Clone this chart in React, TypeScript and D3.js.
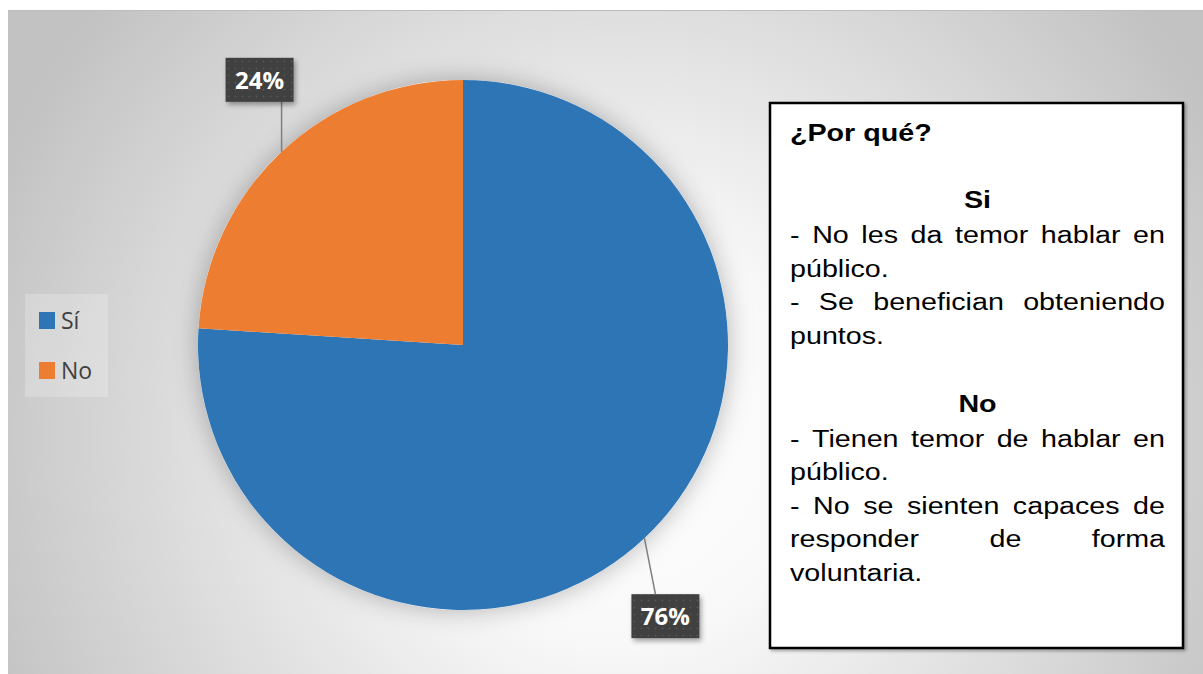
import React, { useEffect, useRef } from "react";
import * as d3 from "d3";

const categories = ["Sí", "No"];
const values = [76, 24];
const labels = ["76%", "24%"];
const colors = ["#2e75b6", "#ed7d31"];

const titleText = "¿Por qué?";
const siHeading = "Si";
const siLines = [
  { t: "- No les da temor hablar en", j: true },
  { t: "público.", j: false },
  { t: "- Se benefician obteniendo", j: true },
  { t: "puntos.", j: false },
];
const noHeading = "No";
const noLines = [
  { t: "- Tienen temor de hablar en", j: true },
  { t: "público.", j: false },
  { t: "- No se sienten capaces de", j: true },
  { t: "responder de forma", j: true },
  { t: "voluntaria.", j: false },
];

const W = 1203;
const H = 674;
const cx = 463;
const cy = 345;
const R = 265;
// label box offsets relative to the arc point at the slice's mid angle
const labelLayout = [
  { dx: 21, dy: 78, lx: 11, ly: 56 },
  { dx: -22, dy: -72, lx: 0, ly: -50 },
];

export default function App() {
  const ref = useRef<SVGSVGElement>(null);

  useEffect(() => {
    const svg = d3.select(ref.current);
    svg.selectAll("*").remove();

    const defs = svg.append("defs");
    const bg = defs
      .append("radialGradient")
      .attr("id", "bg")
      .attr("gradientUnits", "userSpaceOnUse")
      .attr("cx", 620)
      .attr("cy", 440)
      .attr("r", 680);
    bg.append("stop").attr("offset", "0").attr("stop-color", "#ffffff");
    bg.append("stop").attr("offset", "0.3").attr("stop-color", "#f8f8f8");
    bg.append("stop").attr("offset", "1").attr("stop-color", "#c2c2c2");

    const sh = defs.append("filter").attr("id", "pieShadow").attr("x", "-25%").attr("y", "-25%").attr("width", "150%").attr("height", "150%");
    sh.append("feDropShadow").attr("dx", 0).attr("dy", 0).attr("stdDeviation", 13).attr("flood-color", "#000").attr("flood-opacity", 0.28);

    const lsh = defs.append("filter").attr("id", "lblShadow").attr("x", "-30%").attr("y", "-30%").attr("width", "160%").attr("height", "160%");
    lsh.append("feDropShadow").attr("dx", 2).attr("dy", 3).attr("stdDeviation", 2.5).attr("flood-color", "#000").attr("flood-opacity", 0.35);

    const boxSh = defs.append("filter").attr("id", "boxShadow").attr("x", "-5%").attr("y", "-5%").attr("width", "110%").attr("height", "110%");
    boxSh.append("feDropShadow").attr("dx", 2).attr("dy", 2).attr("stdDeviation", 1.5).attr("flood-color", "#000").attr("flood-opacity", 0.3);

    const pat = defs.append("pattern").attr("id", "dots").attr("patternUnits", "userSpaceOnUse").attr("width", 7).attr("height", 7);
    pat.append("rect").attr("width", 7).attr("height", 7).attr("fill", "#3f3f3f");
    pat.append("circle").attr("cx", 3.5).attr("cy", 3.5).attr("r", 0.9).attr("fill", "#595959");

    // background
    svg.append("rect").attr("x", 8).attr("y", 10).attr("width", W - 8).attr("height", H - 10).attr("fill", "url(#bg)");
    svg.append("line").attr("x1", 8).attr("x2", W).attr("y1", 10.5).attr("y2", 10.5).attr("stroke", "#bdbdbd").attr("stroke-width", 1);

    // pie
    const pie = d3.pie<number>().sort(null).value((d) => d);
    const arcs = pie(values);
    const arc = d3.arc<d3.PieArcDatum<number>>().innerRadius(0).outerRadius(R);
    const g = svg.append("g").attr("transform", `translate(${cx},${cy})`);
    g.append("circle").attr("r", R).attr("fill", "#fff").attr("filter", "url(#pieShadow)");
    g.selectAll("path.slice")
      .data(arcs)
      .join("path")
      .attr("class", "slice")
      .attr("d", arc)
      .attr("fill", (_, i) => colors[i]);

    // data labels
    arcs.forEach((a, i) => {
      const mid = (a.startAngle + a.endAngle) / 2;
      const px = R * Math.sin(mid);
      const py = -R * Math.cos(mid);
      const L = labelLayout[i];
      const bx = px + L.dx;
      const by = py + L.dy;
      const bw = 68;
      const bh = 44;
      g.append("line")
        .attr("x1", px)
        .attr("y1", py)
        .attr("x2", px + L.lx)
        .attr("y2", py + L.ly)
        .attr("stroke", "#7f7f7f")
        .attr("stroke-width", 1.5);
      g.append("rect")
        .attr("x", bx - bw / 2)
        .attr("y", by - bh / 2)
        .attr("width", bw)
        .attr("height", bh)
        .attr("fill", "url(#dots)")
        .attr("filter", "url(#lblShadow)");
      g.append("text")
        .attr("x", bx)
        .attr("y", by + 9)
        .attr("text-anchor", "middle")
        .attr("font-family", "'Open Sans', sans-serif")
        .attr("font-weight", "bold")
        .attr("font-size", 24)
        .attr("fill", "#ffffff")
        .text(labels[i]);
    });

    // legend
    const lg = svg.append("g");
    lg.append("rect").attr("x", 25).attr("y", 294).attr("width", 83).attr("height", 103).attr("fill", "#ffffff").attr("fill-opacity", 0.22);
    categories.forEach((c, i) => {
      const y = 312 + i * 50;
      lg.append("rect").attr("x", 39).attr("y", y).attr("width", 16).attr("height", 17).attr("fill", colors[i]);
      lg.append("text")
        .attr("x", 61)
        .attr("y", y + 17)
        .attr("font-family", "'Open Sans', sans-serif")
        .attr("font-size", 23)
        .attr("fill", "#404040")
        .text(c);
    });

    // text box
    const bx0 = 770;
    const by0 = 103;
    const bw0 = 413;
    const bh0 = 545;
    svg.append("rect")
      .attr("x", bx0)
      .attr("y", by0)
      .attr("width", bw0)
      .attr("height", bh0)
      .attr("fill", "#ffffff")
      .attr("stroke", "#000")
      .attr("stroke-width", 2.5)
      .attr("filter", "url(#boxShadow)");
    const tg = svg.append("g").attr("font-family", "'Liberation Sans', Arial, sans-serif").attr("fill", "#000");
    const fs = 24.5;
    const sx = 1.17;
    const left = 790;
    const right = 1165;
    const lh = 33.5;

    const put = (s: string, x: number, y: number, bold = false, anchor = "start") =>
      tg
        .append("text")
        .attr("transform", `translate(${x},${y}) scale(${sx},1)`)
        .attr("text-anchor", anchor)
        .attr("font-size", fs)
        .attr("font-weight", bold ? "bold" : "normal")
        .text(s);

    put(titleText, left, 141, true);

    const drawSection = (heading: string, hy: number, lines: { t: string; j: boolean }[]) => {
      put(heading, (left + right) / 2, hy, true, "middle");
      lines.forEach((ln, i) => {
        const y = hy + 35 + i * lh;
        if (!ln.j) {
          put(ln.t, left, y);
          return;
        }
        const words = ln.t.split(" ");
        const nodes = words.map((w) => put(w, 0, y));
        const widths = nodes.map((n) => (n.node() as SVGTextElement).getComputedTextLength() * sx);
        const total = d3.sum(widths);
        const gap = (right - left - total) / (words.length - 1);
        let x = left;
        nodes.forEach((n, k) => {
          n.attr("transform", `translate(${x},${y}) scale(${sx},1)`);
          x += widths[k] + gap;
        });
      });
    };
    drawSection(siHeading, 208, siLines);
    drawSection(noHeading, 411.5, noLines);
  }, []);

  return (
    <div style={{ position: "absolute", left: 0, top: 0 }}>
      <svg ref={ref} width={W} height={H} style={{ display: "block" }} />
    </div>
  );
}
